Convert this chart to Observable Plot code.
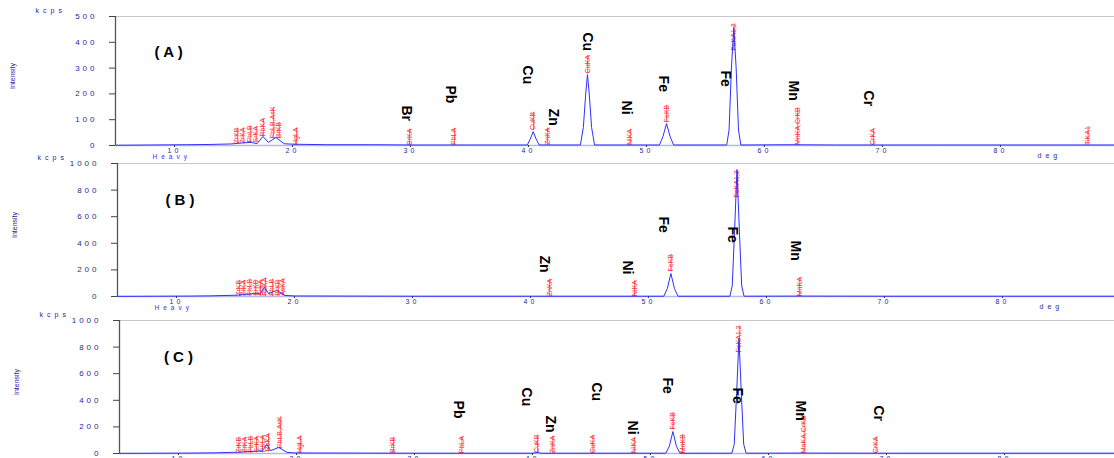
<!DOCTYPE html>
<html><head><meta charset="utf-8">
<script src="https://cdn.jsdelivr.net/npm/d3@7"></script>
<script src="https://cdn.jsdelivr.net/npm/@observablehq/plot@0.6"></script>
<style>
html,body{margin:0;padding:0;background:#fff;}
body{width:1114px;height:458px;overflow:hidden;font-family:"Liberation Sans",Arial,sans-serif;}
#wrap{position:relative;width:1114px;height:458px;overflow:hidden;}
#wrap svg{position:absolute;left:0;}
g[aria-label="y-axis tick label"] text, g[aria-label="x-axis tick label"] text{letter-spacing:3px;}
g[aria-description="stretched"] text{letter-spacing:4px;}
g[aria-description="peaklabel"] text{text-decoration:line-through;}
</style></head>
<body><div id="wrap"></div>
<script>
// ---------- data ----------
const xTicks = [10, 20, 30, 40, 50, 60, 70, 80];
const yTicksA = [0, 100, 200, 300, 400, 500];
const yTicksBC = [0, 200, 400, 600, 800, 1000];
const yMaxA = 500, yMaxB = 1000, yMaxC = 1000;
const panelTags = ["( A )", "( B )", "( C )"];
const tagX = [9.5, 10.3, 10.0];
const tagY = [360, 722, 722];

// spectrum [2theta, kcps]
const spectrumA = [[5,1],[8,2],[11,3],[13,4],[14.8,6],[15.8,10],[16.5,12],[17.0,7],[17.5,35],[17.95,12],[18.6,31],[19.3,7],[20,5],[23,3],[27,3],[30,2],[35,2],[39.9,2],[40.15,25],[40.4,54],[40.65,25],[40.9,2],[44.4,2],[44.65,70],[44.85,200],[45.0,275],[45.15,200],[45.35,70],[45.6,2],[51.1,2],[51.4,35],[51.7,85],[52.0,35],[52.3,2],[56.8,2],[57.0,60],[57.2,300],[57.4,457],[57.6,300],[57.8,60],[58.0,2],[62,3],[66,2],[75,2],[89.75,2]];
const spectrumB = [[5,1],[8,2],[11,3],[13,5],[15.2,10],[16.5,22],[17.1,20],[17.45,68],[17.8,22],[18.5,45],[19.2,8],[20,4],[25,3],[30,2],[40,2],[51.3,2],[51.6,60],[51.9,173],[52.2,60],[52.5,2],[56.9,2],[57.1,80],[57.3,500],[57.5,955],[57.7,500],[57.9,80],[58.1,2],[63,3],[70,2],[89.75,2]];
const spectrumC = [[5,1],[8,2],[11,3],[13,5],[15.2,10],[16.4,17],[17.1,20],[17.5,68],[17.8,22],[18.5,45],[19.2,8],[20,4],[25,3],[30,2],[40,2],[40.4,8],[40.7,2],[51.3,2],[51.6,55],[51.9,165],[52.2,55],[52.5,2],[56.9,2],[57.1,70],[57.3,450],[57.5,865],[57.7,450],[57.9,70],[58.1,2],[63,3],[70,2],[89.75,2]];

// red peak markers [2theta, base kcps, line name]
const peaksA = [[15.3,8,"ZrKB"],[15.8,8,"ZrKA"],[16.4,12,"PbLB"],[16.9,12,"SrKA"],[17.5,35,"RbKA"],[18.35,27,"PbLB,AsK"],[18.85,28,"BrKB"],[20.3,2,"HgLA"],[29.9,2,"BrKA"],[33.7,2,"PbLA"],[40.4,60,"CuKB"],[41.6,2,"ZnKA"],[45.0,280,"CuKA"],[48.6,2,"NiKA"],[51.7,90,"FeKB"],[57.4,368,"FeKA1,2"],[62.8,2,"MnKA,CrKB"],[69.2,2,"CrKA"],[87.4,2,"TiKA1"]];
const peaksB = [[15.3,5,"ZrKB"],[15.7,5,"ZrKA"],[16.2,5,"PbLB"],[16.7,5,"SrKB"],[17.1,5,"SrKA"],[17.5,5,"RbKA"],[18.1,5,"PbLB"],[18.6,5,"BrKB"],[19.0,5,"AsKA"],[41.6,2,"ZnKA"],[48.8,2,"NiKA"],[51.9,188,"FeKB"],[57.5,744,"FeKA1,2"],[62.8,2,"MnKA"]];
const peaksC = [[15.1,5,"ZrKB"],[15.6,5,"ZrKA"],[16.1,5,"PbLB"],[16.6,8,"SrKA"],[17.1,10,"PbLA"],[17.6,15,"RbKA"],[18.6,40,"PbLB,AsK"],[20.3,3,"HgLA"],[28.2,3,"BrKB"],[34.0,2,"PbLA"],[40.4,5,"CuKB"],[41.7,2,"ZnKA"],[45.1,2,"CuKA"],[48.6,2,"NiKA"],[51.9,180,"FeKB"],[52.7,2,"MnKB"],[57.5,759,"FeKA1,2"],[63.0,2,"MnKA,CrKB"],[69.1,2,"CrKA"]];

// element labels [2theta, top kcps, element]
const elementsA = [[29.7,155,"Br"],[33.4,233,"Pb"],[39.9,310,"Cu"],[42.1,143,"Zn"],[45.0,438,"Cu"],[48.3,174,"Ni"],[51.4,271,"Fe"],[56.7,291,"Fe"],[62.5,252,"Mn"],[68.8,213,"Cr"]];
const elementsB = [[41.2,308,"Zn"],[48.2,271,"Ni"],[51.3,602,"Fe"],[57.1,526,"Fe"],[62.5,421,"Mn"]];
const elementsC = [[33.7,398,"Pb"],[39.5,496,"Cu"],[41.5,286,"Zn"],[45.4,534,"Cu"],[48.5,248,"Ni"],[51.4,571,"Fe"],[57.4,496,"Fe"],[62.7,398,"Mn"],[69.3,361,"Cr"]];

// ---------- drawing ----------
const navy = "#1f1f99";
const xDomain = [5, 89.75];
const panels = [
  {spec: spectrumA, peaks: peaksA, elems: elementsA, yMax: yMaxA, yTicks: yTicksA, top: 0, h: 157, mt: 16, mb: 12, ml: 115},
  {spec: spectrumB, peaks: peaksB, elems: elementsB, yMax: yMaxB, yTicks: yTicksBC, top: 152, h: 158, mt: 11, mb: 14, ml: 117},
  {spec: spectrumC, peaks: peaksC, elems: elementsC, yMax: yMaxC, yTicks: yTicksBC, top: 310, h: 160, mt: 10, mb: 17, ml: 119}
];
const wrap = document.getElementById("wrap");
panels.forEach((p, i) => {
  const svg = Plot.plot({
    width: p.ml + 1000,
    height: p.h,
    marginLeft: p.ml, marginRight: 0, marginTop: p.mt, marginBottom: p.mb,
    style: {background: "transparent", maxWidth: "none", fontFamily: "'Liberation Sans', Arial, sans-serif", overflow: "visible"},
    x: {domain: xDomain, axis: null, label: null},
    y: {domain: [0, p.yMax], axis: null, label: null},
    marks: [
      Plot.ruleY([p.yMax], {stroke: "#c8c8c8", strokeWidth: 1}),
      Plot.ruleY([0], {stroke: "#b8b8ea", strokeWidth: 1.5}),
      Plot.axisX({ticks: xTicks, tickSize: 2, tickPadding: 1, fontSize: 7, fill: navy, stroke: "#333", tickFormat: "d", label: null}),
      Plot.axisY({ticks: p.yTicks, tickSize: 6, tickPadding: 12, fontSize: 8, fill: navy, stroke: "#444", tickFormat: "d", label: null}),
      Plot.ruleX([xDomain[0]], {stroke: "#555", strokeWidth: 1.3}),
      Plot.text(p.peaks, {x: d => d[0], y: d => d[1], text: d => d[2], rotate: -90, textAnchor: "start", fill: "#ff3030", fontSize: 7, ariaDescription: "peaklabel"}),
      Plot.line(p.spec, {x: d => d[0], y: d => d[1], stroke: "#2f2fff", strokeWidth: 1}),
      Plot.text(p.elems, {x: d => d[0], y: d => d[1], text: d => d[2], rotate: 90, textAnchor: "start", fill: "#000", fontSize: 14, fontWeight: "bold"}),
      Plot.text([panelTags[i]], {x: tagX[i], y: tagY[i], text: d => d, fontSize: 15, fontWeight: "bold", fill: "#000"}),
      Plot.text(["kcps"], {frameAnchor: "top-left", dx: -80, dy: -8, fontSize: 7, fill: navy, ariaDescription: "stretched"}),
      Plot.text(["Intensity"], {frameAnchor: "left", dx: -103, dy: -5, rotate: -90, textAnchor: "middle", fontSize: 7, fill: navy}),
      Plot.text(["Heavy"], {frameAnchor: "bottom-left", dx: 37, dy: 13, fontSize: 6.5, fill: "#2f2fff", ariaDescription: "stretched"}),
      Plot.text(["deg"], {frameAnchor: "bottom-left", dx: 922, dy: 12, fontSize: 7, fill: navy, ariaDescription: "stretched"})
    ]
  });
  svg.style.top = p.top + "px";
  wrap.appendChild(svg);
});
</script>
</body></html>
